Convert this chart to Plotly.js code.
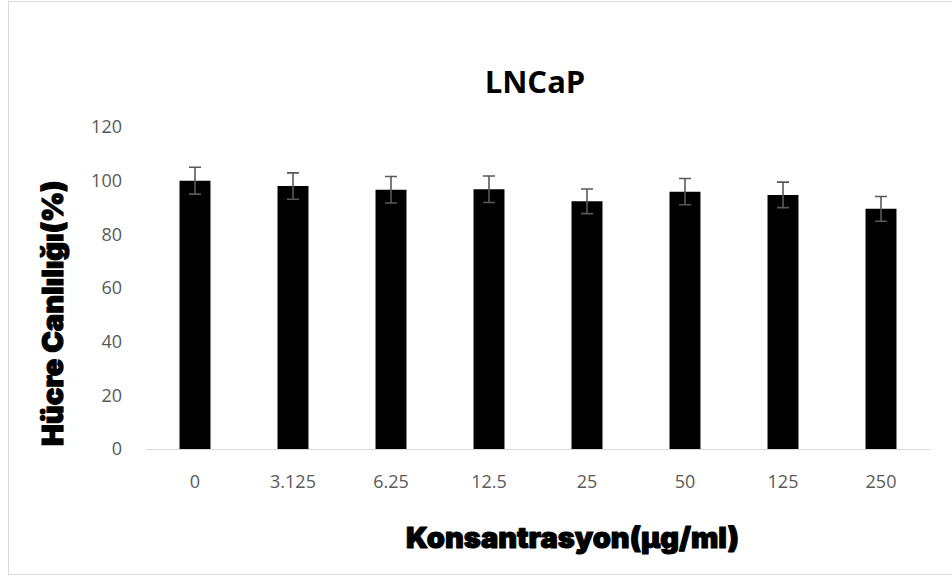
<!DOCTYPE html>
<html>
<head>
<meta charset="utf-8">
<script src="https://cdn.plot.ly/plotly-3.0.1.min.js"></script>
<style>
  html, body { margin: 0; padding: 0; background: #fff; }
  #wrap { position: relative; width: 952px; height: 576px; }
  #chart { position: absolute; left: 0; top: 0; width: 952px; height: 576px; }
  #frame { position: absolute; left: 8px; top: 1px; width: 960px; height: 572px;
           border: 1px solid #d9d9d9; pointer-events: none; }
  #chart .annotation-text { stroke: #000; stroke-width: 1.1px; stroke-linejoin: round; }
</style>
</head>
<body>
<div id="wrap">
  <div id="chart"></div>
  <div id="frame"></div>
</div>
<script>
const categories = ["0", "3.125", "6.25", "12.5", "25", "50", "125", "250"];
const viability = [100, 98, 96.6, 96.8, 92.3, 95.9, 94.7, 89.5];
const errors = [5.0, 4.9, 4.95, 4.95, 4.6, 4.9, 4.75, 4.6];
const yTicks = [0, 20, 40, 60, 80, 100, 120];
const chartTitle = "LNCaP";
const xTitle = "Konsantrasyon(µg/ml)";
const yTitle = "Hücre Canlılığı(%)";

const heavy = "'Arial Black', Inter, 'DejaVu Sans', sans-serif";

const trace = {
  type: "bar",
  x: categories,
  y: viability,
  marker: { color: "#000000", line: { width: 0 } },
  error_y: { type: "data", array: errors, visible: true, color: "#595959", thickness: 1.6, width: 6 },
  hoverinfo: "x+y"
};

const layout = {
  width: 952,
  height: 576,
  margin: { l: 146, r: 22, t: 126.5, b: 126.5 },
  paper_bgcolor: "#ffffff",
  plot_bgcolor: "#ffffff",
  showlegend: false,
  bargap: 0.684,
  title: {
    text: chartTitle,
    x: 535 / 952, xanchor: "center",
    y: 1 - 82 / 576, yanchor: "middle",
    font: { family: "'Open Sans', 'Noto Sans', sans-serif", size: 31, color: "#000000", weight: 700 }
  },
  xaxis: {
    type: "category",
    showline: true, linecolor: "#d9d9d9", linewidth: 1.3,
    showgrid: false, zeroline: false, ticks: "",
    ticklabelstandoff: 16,
    tickfont: { family: "'Open Sans', 'Noto Sans', sans-serif", size: 18, color: "#595959" }
  },
  yaxis: {
    range: [0, 120],
    tickvals: yTicks,
    showline: false, showgrid: false, zeroline: false, ticks: "",
    ticklabelstandoff: 23,
    tickfont: { family: "'Open Sans', 'Noto Sans', sans-serif", size: 18, color: "#595959" }
  },
  annotations: [
    {
      text: xTitle, showarrow: false,
      xref: "paper", yref: "paper",
      x: (572 - 146) / 784, y: (449.5 - 538) / 323,
      xanchor: "center", yanchor: "middle",
      font: { family: heavy, size: 29, color: "#000000", weight: 900 }
    },
    {
      text: yTitle, showarrow: false, textangle: -90,
      xref: "paper", yref: "paper",
      x: (53 - 146) / 784, y: (449.5 - 314) / 323,
      xanchor: "center", yanchor: "middle",
      font: { family: heavy, size: 29, color: "#000000", weight: 900 }
    }
  ]
};

Plotly.newPlot("chart", [trace], layout, { displayModeBar: false, staticPlot: true });
</script>
</body>
</html>
